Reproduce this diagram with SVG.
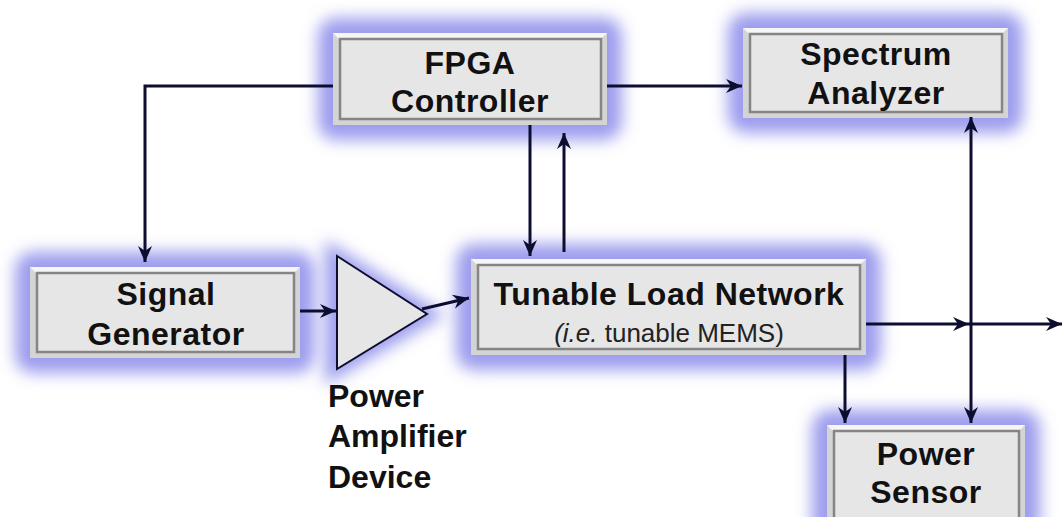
<svg xmlns="http://www.w3.org/2000/svg" width="1063" height="517" viewBox="0 0 1063 517">
<defs>
<filter id="blur" x="-30%" y="-40%" width="160%" height="180%">
<feGaussianBlur stdDeviation="8"/>
</filter>
<marker id="ah" viewBox="0 0 18 16" refX="17" refY="8" markerWidth="18" markerHeight="16" markerUnits="userSpaceOnUse" orient="auto">
<path d="M1,1 L17,8 L1,15 L6,8 z" fill="#0d0d30"/>
</marker>
<style>
.glow{fill:#9c9cee;filter:url(#blur)}
.outer{fill:#d4d4d4}
.top{fill:#f6f6f6}
.inner{fill:#e6e6e6;stroke:#858585;stroke-width:2.5}
.lbl{font-family:"Liberation Sans",Arial,sans-serif;font-weight:bold;font-size:32px;fill:#111;text-anchor:middle;letter-spacing:0.5px}
.sub{font-family:"Liberation Sans",Arial,sans-serif;font-size:26px;fill:#222;text-anchor:middle}
.side{font-family:"Liberation Sans",Arial,sans-serif;font-weight:bold;font-size:32px;fill:#111}
.ln{fill:none;stroke:#0d0d30;stroke-width:3}
</style>
</defs>
<rect width="1063" height="517" fill="#fff"/>

<g id="fpga">
<rect class="glow" x="318" y="18" width="304" height="122" rx="18"/>
<rect class="outer" x="333" y="33" width="274" height="92"/>
<polygon class="top" points="333,33 607,33 601,39 339,39"/>
<rect class="inner" x="340" y="39" width="261" height="80"/>
<text class="lbl" x="470" y="74">FPGA</text>
<text class="lbl" x="470" y="112">Controller</text>
</g>

<g id="spectrum">
<rect class="glow" x="728" y="13" width="295" height="120" rx="18"/>
<rect class="outer" x="743" y="28" width="265" height="90"/>
<polygon class="top" points="743,28 1008,28 1002,34 749,34"/>
<rect class="inner" x="750" y="34" width="252" height="78"/>
<text class="lbl" x="876" y="65">Spectrum</text>
<text class="lbl" x="876" y="104">Analyzer</text>
</g>

<g id="siggen">
<rect class="glow" x="15" y="252" width="300" height="121" rx="18"/>
<rect class="outer" x="30" y="267" width="270" height="91"/>
<polygon class="top" points="30,267 300,267 294,273 36,273"/>
<rect class="inner" x="37" y="273" width="257" height="79"/>
<text class="lbl" x="166" y="305">Signal</text>
<text class="lbl" x="166" y="345">Generator</text>
</g>

<g id="amplifier">
<polygon class="glow" points="325,240 325,385 445,315"/>
<polygon points="337,256 337,369 427,314" fill="#e6e6e6" stroke="#0d0d30" stroke-width="2"/>
<text class="side" x="328" y="407">Power</text>
<text class="side" x="328" y="447">Amplifier</text>
<text class="side" x="328" y="488">Device</text>
</g>

<g id="tunable">
<rect class="glow" x="456" y="244" width="425" height="126" rx="18"/>
<rect class="outer" x="471" y="259" width="395" height="96"/>
<polygon class="top" points="471,259 866,259 860,265 477,265"/>
<rect class="inner" x="478" y="265" width="382" height="84"/>
<text class="lbl" x="669" y="305">Tunable Load Network</text>
<text class="sub" x="669" y="342"><tspan font-style="italic">(i.e.</tspan> tunable MEMS)</text>
</g>

<g id="powersensor">
<rect class="glow" x="812" y="410" width="228" height="132" rx="18"/>
<rect class="outer" x="827" y="425" width="198" height="100"/>
<polygon class="top" points="827,425 1025,425 1019,431 833,431"/>
<rect class="inner" x="834" y="431" width="185" height="100"/>
<text class="lbl" x="926" y="465">Power</text>
<text class="lbl" x="926" y="503">Sensor</text>
</g>

<g id="connectors">
<polyline class="ln" points="333,86 145,86 145,262" marker-end="url(#ah)"/>
<line class="ln" x1="607" y1="86" x2="742" y2="86" marker-end="url(#ah)"/>
<line class="ln" x1="530" y1="125" x2="530" y2="256" marker-end="url(#ah)"/>
<line class="ln" x1="564" y1="252" x2="564" y2="133" marker-end="url(#ah)"/>
<line class="ln" x1="300" y1="311" x2="336" y2="311" marker-end="url(#ah)"/>
<line class="ln" x1="422" y1="309" x2="469" y2="298" marker-end="url(#ah)"/>
<line class="ln" x1="866" y1="324" x2="969" y2="324" marker-end="url(#ah)"/>
<line class="ln" x1="969" y1="324" x2="1062" y2="324" marker-end="url(#ah)"/>
<line class="ln" x1="971" y1="270" x2="971" y2="117" marker-end="url(#ah)"/>
<line class="ln" x1="971" y1="270" x2="971" y2="423" marker-end="url(#ah)"/>
<line class="ln" x1="845" y1="355" x2="845" y2="423" marker-end="url(#ah)"/>
</g>
</svg>
